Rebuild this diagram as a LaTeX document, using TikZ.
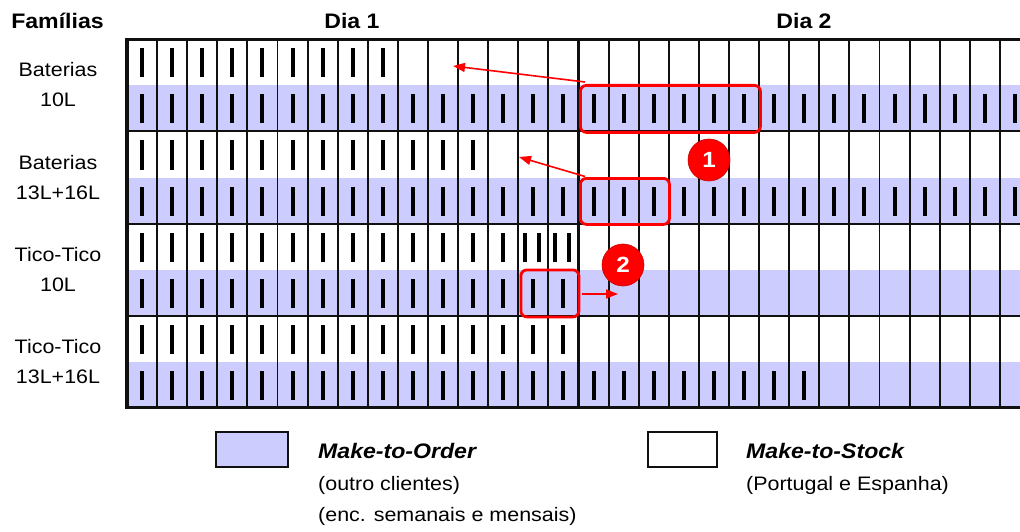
\documentclass[tikz,border=0pt]{standalone}
\usepackage{fontspec}
\setmainfont{Liberation Sans}[FakeStretch=1.1]
\usetikzlibrary{arrows.meta}
\definecolor{mto}{HTML}{CCCCFF}
\definecolor{gridc}{HTML}{101010}
\begin{document}
\begin{tikzpicture}[x=1pt,y=-1pt,
  lab/.style={anchor=base,inner sep=0pt,font=\fontsize{19.5}{22}\selectfont},
  head/.style={anchor=base,inner sep=0pt,font=\fontsize{21}{24}\selectfont\bfseries},
  legt/.style={anchor=base west,inner sep=0pt,font=\fontsize{21}{24}\selectfont\bfseries\itshape},
  legs/.style={anchor=base west,inner sep=0pt,font=\fontsize{19.5}{22}\selectfont},
  redbox/.style={draw=red,line width=2.8pt,rounded corners=6pt,inner sep=0pt,anchor=north west},
  redarrow/.style={draw=red,line width=1.6pt,-{Triangle[length=12pt,width=9pt]}},
  badge/.style={circle,fill=red,draw=red!80!black,line width=0.6pt,minimum size=42pt,inner sep=0pt,text=white,font=\fontsize{22}{24}\selectfont\bfseries},
  legbox/.style={draw=gridc,line width=1.8pt,inner sep=0pt,anchor=north west}]
\useasboundingbox (0,0) rectangle (1020,532);
\fill[white] (0,0) rectangle (1020,532);
% shaded MTO sub-rows
\foreach \k in {0,1,2,3}{
  \fill[mto] (127,{39.5+46*(2*\k+1)}) rectangle (1020,{39.5+46*(2*\k+2)});
}
% ticks
\foreach \r/\cs in {1/{1,...,9},2/{1,...,30},3/{1,...,12},4/{1,...,30},5/{1,...,13},6/{1,...,15},7/{1,...,15},8/{1,...,23}}{
  \foreach \c in \cs {
    \fill ({127+30.1*\c-15.05-2},{39.5+46*\r-23-14}) rectangle ++(4,29);
  }
}
\foreach \c in {14,15}{
  \foreach \o in {-8,6}{
    \fill ({127+30.1*\c-15.05+\o-2},{39.5+46*5-23-14}) rectangle ++(4,29);
  }
}
% vertical grid lines
\foreach \i in {1,...,29}{
  \draw[gridc,line width=1.9pt] ({127+30.1*\i},39.5) -- ({127+30.1*\i},407.5);
}
\draw[gridc,line width=3pt] (578.5,39.5) -- (578.5,407.5);
% family separators
\foreach \k in {1,2,3}{
  \draw[gridc,line width=2pt] (127,{39.5+92*\k}) -- (1020,{39.5+92*\k});
}
% outer border
\draw[gridc,line width=3.4pt] (1020,39.5) -- (127,39.5) -- (127,407.5) -- (1020,407.5);
% headings
\node[head] (fam) at (57.5,29) {Famílias};
\node[head] (dia1) at (352,29) {Dia 1};
\node[head] (dia2) at (804,29) {Dia 2};
% family labels
\node[lab] (f1a) at (58,77) {Baterias};
\node[lab] (f1b) at (58,107) {10L};
\node[lab] (f2a) at (58,169) {Baterias};
\node[lab] (f2b) at (58,199) {13L+16L};
\node[lab] (f3a) at (58,261) {Tico-Tico};
\node[lab] (f3b) at (58,291) {10L};
\node[lab] (f4a) at (58,353) {Tico-Tico};
\node[lab] (f4b) at (58,383) {13L+16L};
% red boxes
\node[redbox,minimum width=180pt,minimum height=47pt] (boxA) at (579,84) {};
\node[redbox,minimum width=89pt,minimum height=46pt] (boxB) at (579,177) {};
\node[redbox,minimum width=58pt,minimum height=47pt] (boxC) at (519.5,268.5) {};
% arrow targets
\coordinate (tA) at (453,66);
\coordinate (tB) at (519,157);
\coordinate (tC) at (618,294);
\coordinate (sA) at (585,82);
\coordinate (sB) at (585,176.5);
\coordinate (sC) at (582,294);
\draw[redarrow] (sA) -- (tA);
\draw[redarrow] (sB) -- (tB);
\draw[redarrow] (sC) -- (tC);
% badges
\node[badge] (b1) at (709,160) {1};
\node[badge] (b2) at (623,265) {2};
% legend
\node[legbox,fill=mto,minimum width=72pt,minimum height=35pt] (lmto) at (215,431) {};
\node[legbox,fill=white,minimum width=69pt,minimum height=35pt] (lmts) at (647,431) {};
\node[legt] (tmto) at (318,458) {Make-to-Order};
\node[legs] (smto1) at (318,490) {(outro clientes)};
\node[legs] (smto2) at (318,521) {(enc. semanais e mensais)};
\node[legt] (tmts) at (746,458) {Make-to-Stock};
\node[legs] (smts) at (746,490) {(Portugal e Espanha)};
\end{tikzpicture}
\end{document}
